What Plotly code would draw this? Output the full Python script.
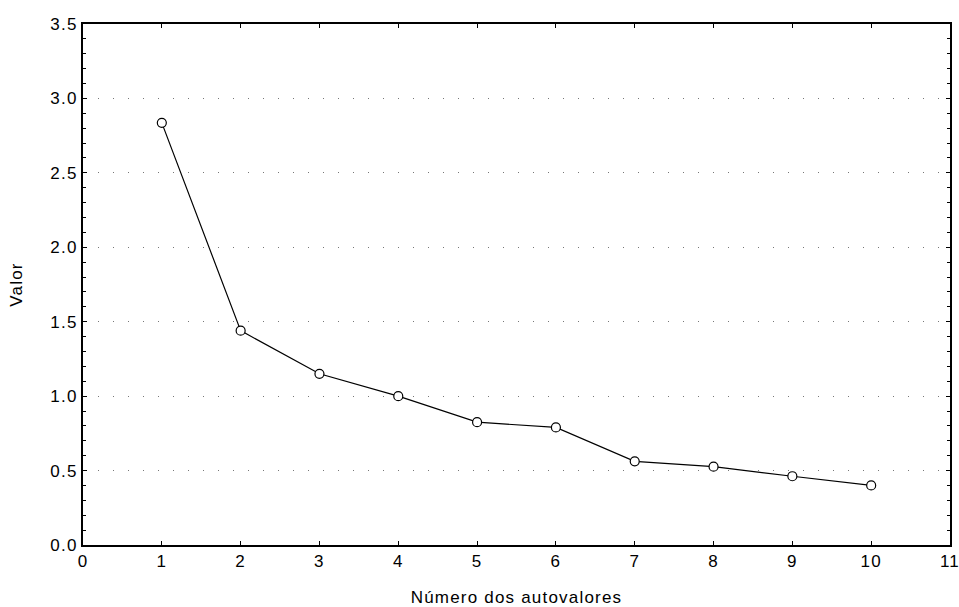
import plotly.graph_objects as go

numero = [1, 2, 3, 4, 5, 6, 7, 8, 9, 10]
valor = [2.836, 1.44, 1.15, 1.00, 0.825, 0.79, 0.562, 0.526, 0.462, 0.40]

x_ticks = list(range(0, 12))
y_ticks = [0.0, 0.5, 1.0, 1.5, 2.0, 2.5, 3.0, 3.5]
y_ticklabels = ["0.0", "0.5", "1.0", "1.5", "2.0", "2.5", "3.0", "3.5"]

FONT = "Liberation Sans, Arial, Helvetica, sans-serif"

fig = go.Figure()
fig.add_trace(go.Scatter(
    x=numero, y=valor, mode="lines+markers",
    line=dict(color="black", width=1.2),
    marker=dict(symbol="circle", size=9, color="white",
                line=dict(color="black", width=1.2)),
    showlegend=False, cliponaxis=False,
))

fig.update_layout(
    width=959, height=607,
    margin=dict(l=83, r=9, t=24, b=62),
    paper_bgcolor="white", plot_bgcolor="white",
    font=dict(family=FONT, size=17, color="black"),
)
fig.update_xaxes(
    range=[0, 11], tickvals=x_ticks, ticktext=[str(v) for v in x_ticks],
    showline=True, linecolor="black", linewidth=2, mirror="ticks",
    ticks="inside", ticklen=4, tickcolor="black", tickwidth=1,
    showgrid=False, zeroline=False, automargin=False,
    title=dict(text="Número dos autovalores", standoff=24,
               font=dict(family=FONT, size=17)),
    tickfont=dict(family=FONT, size=17),
)
fig.update_yaxes(
    range=[0, 3.5], tickvals=y_ticks, ticktext=y_ticklabels,
    showline=True, linecolor="black", linewidth=2, mirror="ticks",
    ticks="inside", ticklen=4, tickcolor="black", tickwidth=1,
    minor=dict(dtick=0.1, tick0=0, ticks="inside", ticklen=3,
               tickcolor="black", showgrid=False),
    showgrid=True, gridcolor="#777777", gridwidth=1, griddash="1px,14px",
    zeroline=False, automargin=False,
    title=dict(text="Valor", standoff=27, font=dict(family=FONT, size=17)),
    tickfont=dict(family=FONT, size=17),
)

post = """
document.body.style.margin='0';
document.body.style.overflow='hidden';
document.querySelectorAll('.xtitle, .ytitle, .xtick text, .ytick text').forEach(function(e){e.style.letterSpacing='1.2px';});
"""
fig.write_html("out.html", post_script=post, config={"displayModeBar": False})
